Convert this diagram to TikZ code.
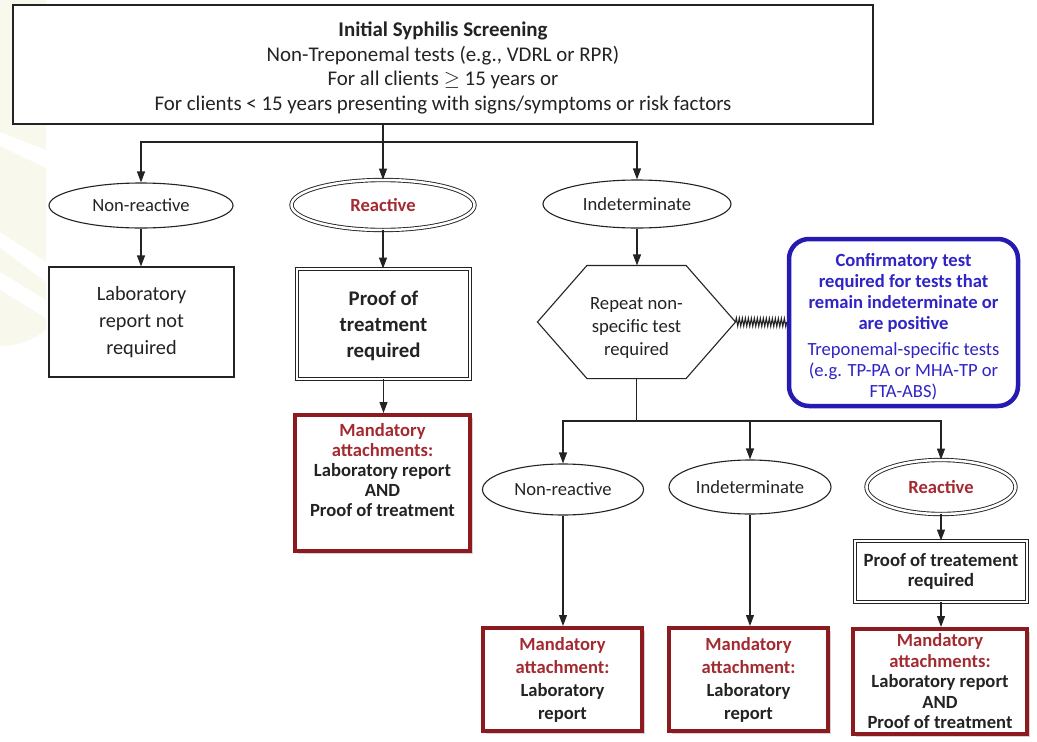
\documentclass[tikz,border=0pt]{standalone}
\usepackage{fontspec}
\setmainfont{Carlito}
\usetikzlibrary{arrows.meta,shapes.geometric,decorations.pathmorphing,shadows,calc}
\definecolor{mred}{RGB}{140,26,30}
\definecolor{tred}{RGB}{163,42,48}
\definecolor{cblue}{RGB}{38,26,178}
\definecolor{tblue}{RGB}{48,36,196}
\definecolor{cream}{RGB}{249,248,236}
\definecolor{ink}{RGB}{35,35,35}
\newcommand{\upstrut}[1]{\rule{0pt}{#1}}
\begin{document}
\begin{tikzpicture}[x=1pt,y=-1pt,line width=1.1pt,draw=ink,
  every node/.style={font=\fontsize{18.6}{22}\selectfont,text=ink,align=center,inner sep=2pt},
  arr/.style={draw=ink,-{Triangle[width=8pt,length=11pt]}},
  plainbox/.style={draw=ink,rectangle},
  dblbox/.style={draw=ink,rectangle,double,double distance=2.5pt,line width=0.9pt},
  oval/.style={draw=ink,ellipse,inner sep=0pt},
  dbloval/.style={draw=ink,ellipse,double,double distance=2.5pt,line width=0.9pt,inner sep=0pt},
  mandbox/.style={draw=mred,line width=4pt,fill=white,inner sep=0pt,
    drop shadow={shadow xshift=2.5pt,shadow yshift=-2.5pt,opacity=0.35}},
  confbox/.style={draw=cblue,line width=4.5pt,rounded corners=20pt,fill=white,text=tblue},
  zig/.style={draw=ink,line width=1.1pt,decorate,decoration={zigzag,segment length=3pt,amplitude=4pt}}
]
% bounding box
\useasboundingbox (0,0) rectangle (1037,742);
% faint watermark
\fill[cream] (0,0) -- (46,0) -- (46,330) .. controls (30,342) and (15,346) .. (0,346) -- cycle;
\fill[white] (0,132) -- (46,150) -- (46,168) -- (0,146) -- cycle;
\fill[white] (0,232) -- (46,262) -- (46,282) -- (0,248) -- cycle;
\fill[white] (0,272) -- (46,300) -- (46,318) -- (0,290) -- cycle;

% top box
\node[plainbox,fill=white,minimum width=860pt,minimum height=119pt,font=\fontsize{20.9}{24.5}\selectfont] (top) at (443,64.5)
  {\upstrut{22pt}\textbf{Initial Syphilis Screening}\\Non-Treponemal tests (e.g., VDRL or RPR)\\For all clients $\geq$ 15 years or\\For clients {<} 15 years presenting with signs/symptoms or risk factors};

% first level
\coordinate (bus1) at (383,142);
\node[oval,minimum width=184pt,minimum height=45pt] (n1) at (141,205.5) {Non-reactive};
\node[dbloval,minimum width=183pt,minimum height=50pt] (r1) at (383,205) {\textbf{\color{tred}Reactive}};
\node[oval,minimum width=188pt,minimum height=48pt] (i1) at (637,204) {Indeterminate};

\node[plainbox,minimum width=185pt,minimum height=110pt,font=\fontsize{20.3}{27}\selectfont] (lab) at (141.5,322)
  {Laboratory\\report not\\required};
\node[dblbox,minimum width=173pt,minimum height=110pt,font=\bfseries\fontsize{20.8}{26}\selectfont] (proof) at (383.5,324)
  {\upstrut{18pt}Proof of\\treatment\\required};
\node[mandbox,minimum width=175pt,minimum height=136pt,font=\bfseries\fontsize{18.6}{20}\selectfont] (m1) at (382.5,483)
  {{\color{tred}Mandatory}\\{\color{tred}attachments:}\\Laboratory report\\AND\\Proof of treatment\rule[-26pt]{0pt}{0pt}};

% hexagon
\node[minimum width=197pt,minimum height=112pt,inner sep=0pt,font=\fontsize{18.7}{23}\selectfont] (hex) at (636.5,322)
  {\upstrut{25pt}Repeat non-\\specific test\\required};
\draw (hex.west) -- ([xshift=49.5pt]hex.north west) -- ([xshift=-49.5pt]hex.north east) -- (hex.east)
  -- ([xshift=-49.5pt]hex.south east) -- ([xshift=49.5pt]hex.south west) -- cycle;

% confirmatory box
\node[confbox,minimum width=229pt,minimum height=167pt,inner sep=0pt,font=\fontsize{18.6}{21}\selectfont] (conf) at (903.5,322.5)
  {\upstrut{21pt}\textbf{Confirmatory test}\\\textbf{required for tests that}\\\textbf{remain indeterminate or}\\\textbf{are positive}\\[5pt]Treponemal-specific tests\\(e.g. TP-PA or MHA-TP or\\FTA-ABS)};

% second level
\coordinate (bus2) at (636.5,421);
\node[oval,minimum width=161pt,minimum height=51pt] (n2) at (563,489.5) {Non-reactive};
\node[oval,minimum width=162pt,minimum height=54pt] (i2) at (750,487) {Indeterminate};
\node[dbloval,minimum width=149pt,minimum height=54pt] (r2) at (941,487) {\textbf{\color{tred}Reactive}};
\node[dblbox,minimum width=172pt,minimum height=61pt,font=\bfseries\fontsize{18.7}{20}\selectfont] (p2) at (941,571.5)
  {Proof of treatement\\required};

\node[mandbox,minimum width=159pt,minimum height=103pt,font=\bfseries\fontsize{18.6}{23}\selectfont] (mA) at (562.5,679.5)
  {{\color{tred}Mandatory}\\{\color{tred}attachment:}\\Laboratory\\report};
\node[mandbox,minimum width=159pt,minimum height=103pt,font=\bfseries\fontsize{18.6}{23}\selectfont] (mB) at (748.5,679.5)
  {{\color{tred}Mandatory}\\{\color{tred}attachment:}\\Laboratory\\report};
\node[mandbox,minimum width=174pt,minimum height=105pt,font=\bfseries\fontsize{18.6}{20.5}\selectfont] (mC) at (940,681.5)
  {{\color{tred}Mandatory}\\{\color{tred}attachments:}\\Laboratory report\\AND\\Proof of treatment};

% connectors
\draw (top.south -| bus1) -- (bus1);
\draw[arr] (bus1) -- (r1.north);
\draw[arr] (bus1) -| (n1.north);
\draw[arr] (bus1) -| (i1.north);
\draw[arr] (n1.south) -- (n1.south |- lab.north);
\draw[arr] (r1.south) -- (r1.south |- proof.north);
\draw[arr] (proof.south) -- (proof.south |- m1.north);
\draw[arr] (i1.south) -- (i1.south |- hex.north);
\draw[zig] (hex.east) -- (conf.west);
\draw (hex.south) -- (bus2);
\draw[arr] (bus2) -| (n2.north);
\draw[arr] (bus2) -| (i2.north);
\draw[arr] (bus2) -| (r2.north);
\draw[arr] (n2.south) -- (n2.south |- mA.north);
\draw[arr] (i2.south) -- (i2.south |- mB.north);
\draw[arr] (r2.south) -- (r2.south |- p2.north);
\draw[arr] (p2.south) -- (p2.south |- mC.north);
\end{tikzpicture}
\end{document}
